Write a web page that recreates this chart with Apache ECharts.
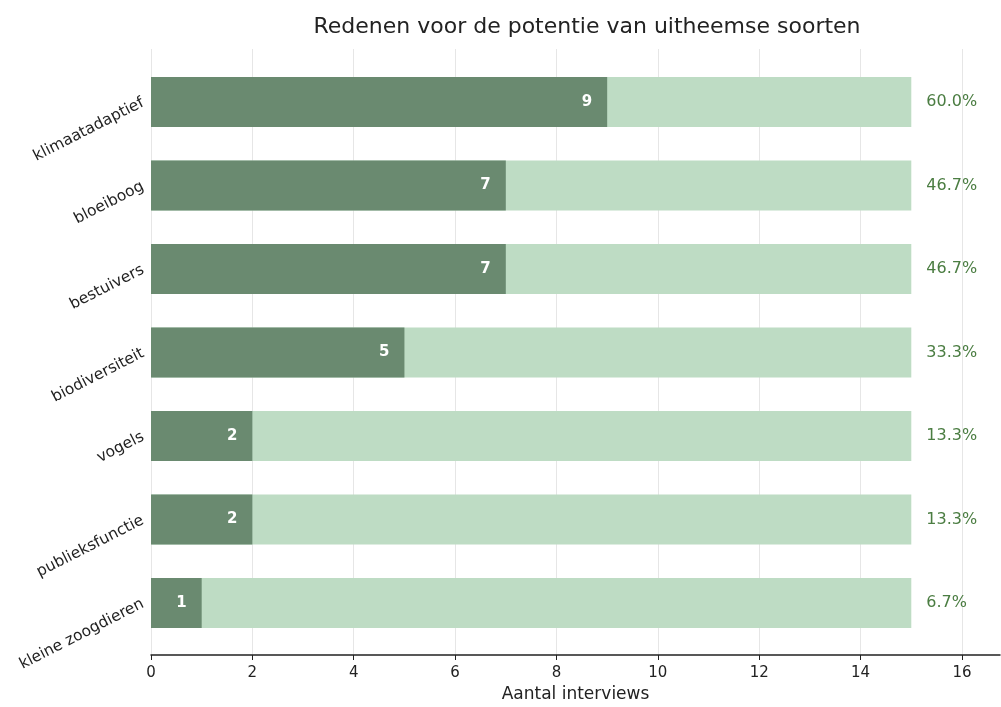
<!DOCTYPE html>
<html><head><meta charset="utf-8">
<script src="https://cdn.jsdelivr.net/npm/echarts@6/dist/echarts.min.js"></script>
<style>html,body{margin:0;padding:0;background:#fff}#c{width:1001px;height:707px}</style>
</head><body><div id="c"></div>
<script>
const categories = ['klimaatadaptief','bloeiboog','bestuivers','biodiversiteit','vogels','publieksfunctie','kleine zoogdieren'];
const counts = [9, 7, 7, 5, 2, 2, 1];
const totals = [15, 15, 15, 15, 15, 15, 15];
const pctLabels = ['60.0%','46.7%','46.7%','33.3%','13.3%','13.3%','6.7%'];
const xTicks = [0, 2, 4, 6, 8, 10, 12, 14, 16];

const F = 'DejaVu Sans';
const chart = echarts.init(document.getElementById('c'), null, {renderer:'canvas'});
const XMAX = 16.75;
chart.setOption({
  animation: false,
  textStyle: {fontFamily: F},
  title: {
    text: 'Redenen voor de potentie van uitheemse soorten',
    left: 582, top: 11, textAlign: 'center',
    textStyle: {fontFamily: F, fontSize: 22, fontWeight: 'normal', color: '#222'}
  },
  grid: [
    {left: 151, top: 49, width: 849, height: 606, containLabel: false, outerBoundsMode: 'none'},
    {left: 151, top: 60.25, width: 849, height: 584.5, containLabel: false, outerBoundsMode: 'none'}
  ],
  xAxis: [
    {gridIndex: 0, type: 'value', min: 0, max: XMAX, interval: 2,
     name: 'Aantal interviews', nameLocation: 'middle', nameGap: 31,
     nameTextStyle: {fontFamily: F, fontSize: 17, color: '#222'},
     axisLine: {show: true, lineStyle: {color: '#222', width: 1.5}},
     axisTick: {show: true, length: 5, lineStyle: {color: '#222'}},
     axisLabel: {fontFamily: F, fontSize: 15, color: '#222', margin: 11, showMaxLabel: false,
       formatter: v => xTicks.indexOf(v) >= 0 ? String(v) : ''},
     splitLine: {show: true, showMaxLine: false, lineStyle: {color: '#e6e6e6', width: 1}}
    },
    {gridIndex: 1, type: 'value', min: 0, max: XMAX, interval: 2, show: false,
     splitLine: {show: false}}
  ],
  yAxis: [
    {gridIndex: 0, type: 'category', data: categories, inverse: true, show: false},
    {gridIndex: 1, type: 'category', data: categories, inverse: true,
     axisLine: {show: false}, axisTick: {show: false},
     axisLabel: {fontFamily: F, fontSize: 15.5, color: '#222', rotate: 27, margin: 8, align: 'right'}
    }
  ],
  series: [
    {type: 'bar', xAxisIndex: 1, yAxisIndex: 1, data: totals, barWidth: 50, barGap: '-100%',
     itemStyle: {color: '#bedcc4'}, z: 1,
     label: {show: true, position: 'right', distance: 15, fontFamily: F, fontSize: 16, color: '#4b7d42',
       formatter: p => pctLabels[p.dataIndex]}
    },
    {type: 'bar', xAxisIndex: 1, yAxisIndex: 1, data: counts, barWidth: 50, barGap: '-100%',
     itemStyle: {color: '#6a8a70'}, z: 2,
     label: {show: true, position: 'insideRight', distance: 15, fontFamily: F, fontSize: 15,
       fontWeight: 'bold', color: '#ffffff'}
    }
  ]
});
</script></body></html>
